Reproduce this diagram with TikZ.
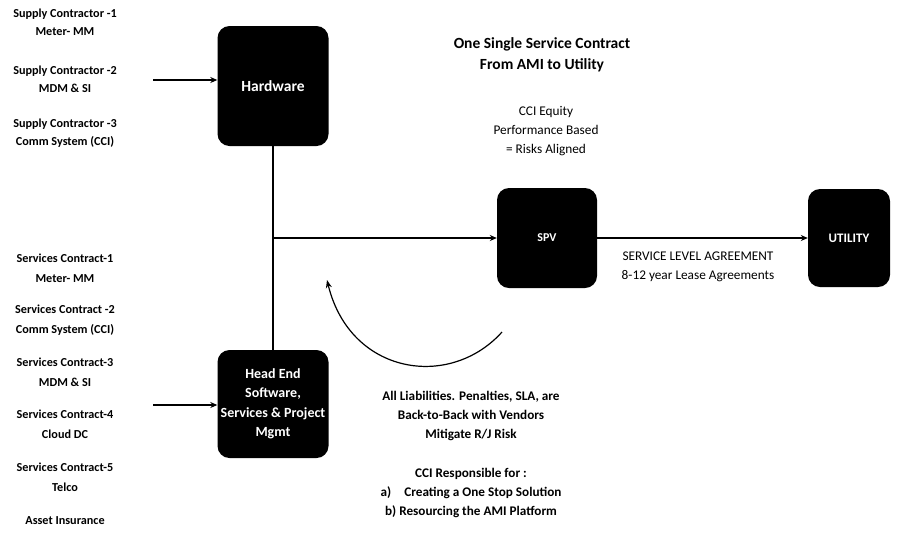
\documentclass[tikz,border=0pt]{standalone}
\usepackage{fontspec}
\setmainfont{Carlito}
\usetikzlibrary{arrows.meta}
\begin{document}
\begin{tikzpicture}[x=1pt,y=-1pt,
  lbl/.style={font=\fontsize{12.2}{18}\selectfont\bfseries, align=center, inner sep=0pt},
  txt/.style={font=\fontsize{13.2}{19}\selectfont\bfseries, align=center, inner sep=0pt},
  reg/.style={font=\fontsize{13.3}{19}\selectfont, align=center, inner sep=0pt},
  blk/.style={fill=black, rounded corners=12pt, inner sep=0pt, text=white, align=center,
    font=\fontsize{14}{19.5}\selectfont\bfseries},
  conn/.style={line width=1.4pt, -{Stealth[length=7pt,width=6pt]}},
  plain/.style={line width=1.4pt}]
\useasboundingbox (0,0) rectangle (899,550);
% left column labels
\node[lbl] (s1) at (65,22) {Supply Contractor -1\\Meter- MM};
\node[lbl] (s2) at (65,79) {Supply Contractor -2\\MDM \& SI};
\node[lbl] (s3) at (65,133) {Supply Contractor -3\\Comm System (CCI)};
\node[lbl, font=\fontsize{12.2}{20}\selectfont\bfseries] (c1) at (65,268) {Services Contract-1\\Meter- MM};
\node[lbl, font=\fontsize{12.2}{20}\selectfont\bfseries] (c2) at (65,320) {Services Contract -2\\Comm System (CCI)};
\node[lbl, font=\fontsize{12.2}{20}\selectfont\bfseries] (c3) at (65,372) {Services Contract-3\\MDM \& SI};
\node[lbl, font=\fontsize{12.2}{20}\selectfont\bfseries] (c4) at (65,424) {Services Contract-4\\Cloud DC};
\node[lbl, font=\fontsize{12.2}{20}\selectfont\bfseries] (c5) at (65,477) {Services Contract-5\\Telco};
\node[lbl] (ai) at (65,521) {Asset Insurance};
% boxes
\node[blk, minimum width=111pt, minimum height=120pt, font=\fontsize{15.5}{19}\selectfont\bfseries] (hw) at (273,86) {Hardware};
\node[blk, minimum width=111pt, minimum height=108pt] (he) at (273,404) {Head End\\Software,\\Services \& Project\\Mgmt};
\node[blk, minimum width=100pt, minimum height=100pt, font=\fontsize{12}{14}\selectfont\bfseries] (spv) at (547,238) {SPV};
\node[blk, minimum width=82pt, minimum height=98pt, font=\fontsize{13}{14}\selectfont\bfseries] (ut) at (849,238) {UTILITY};
% connectors
\coordinate (a1) at (153,80);
\coordinate (a2) at (153,405);
\coordinate (j) at (273,238);
\draw[conn] (a1) -- (hw.west |- a1);
\draw[conn] (a2) -- (he.west |- a2);
\draw[plain] (hw.south) -- (he.north);
\draw[conn] (j) -- (spv.west |- j);
\draw[conn] (spv.east) -- (ut.west);
\coordinate (cs) at (502,332);
\coordinate (ce) at (327,280);
\draw[line width=1.2pt, -{Stealth[length=8pt,width=6pt,open]}] (cs) .. controls (450,390) and (350,375) .. (ce);
% texts
\node[txt, font=\fontsize{15.5}{21}\selectfont\bfseries] (title) at (542,55) {One Single Service Contract\\From AMI to Utility};
\node[reg] (eq) at (546,131) {CCI Equity\\Performance Based\\= Risks Aligned};
\node[reg] (sla) at (698,267) {SERVICE LEVEL AGREEMENT\\8-12 year Lease Agreements};
\node[txt] (liab) at (471,416) {All Liabilities. Penalties, SLA, are\\Back-to-Back with Vendors\\Mitigate R/J Risk};
\node[txt] (resp) at (471,493) {CCI Responsible for :\\a)\quad Creating a One Stop Solution\\b) Resourcing the AMI Platform};
\end{tikzpicture}
\end{document}
